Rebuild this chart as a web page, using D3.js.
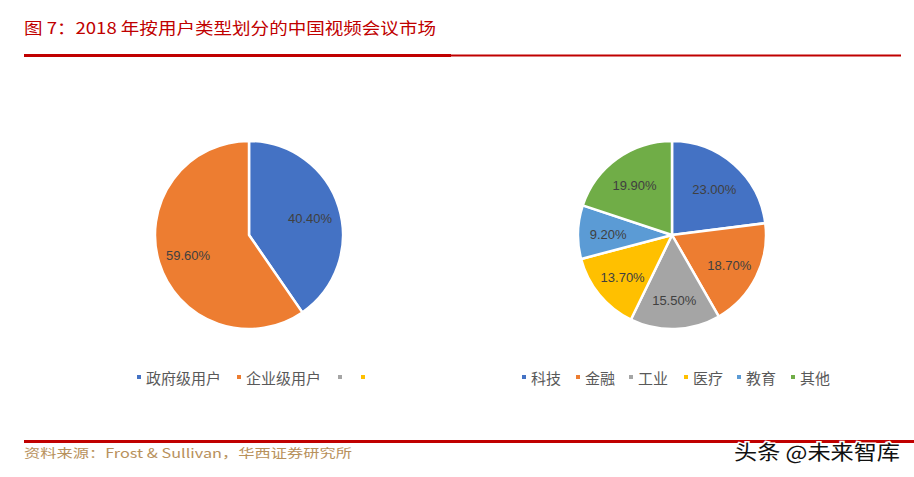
<!DOCTYPE html>
<html><head><meta charset="utf-8">
<script src="https://cdn.jsdelivr.net/npm/d3@7"></script>
<style>body{margin:0;background:#fff}svg{display:block}</style>
</head><body>
<svg id="c" width="914" height="477"></svg>
<script>
const leftCategories = ["政府级用户", "企业级用户", "", ""];
const leftValues = [40.4, 59.6, 0, 0];
const leftColors = ["#4472C4", "#ED7D31", "#A5A5A5", "#FFC000"];
const rightCategories = ["科技", "金融", "工业", "医疗", "教育", "其他"];
const rightValues = [23.0, 18.7, 15.5, 13.7, 9.2, 19.9];
const rightColors = ["#4472C4", "#ED7D31", "#A5A5A5", "#FFC000", "#5B9BD5", "#70AD47"];
const titleText = "图 7：2018 年按用户类型划分的中国视频会议市场";
const sourceText = "资料来源：Frost & Sullivan，华西证券研究所";
const watermark = "头条 @未来智库";

const svg = d3.select("#c");
const FONT = "'Noto Sans CJK SC', 'Noto Sans', sans-serif";

svg.append("text").attr("x", 24).attr("y", 34).attr("fill", "#c00000")
  .attr("font-family", FONT).attr("font-size", 16).attr("textLength", 412).attr("lengthAdjust","spacingAndGlyphs").text(titleText);
svg.append("rect").attr("x", 24).attr("y", 54).attr("width", 427).attr("height", 3).attr("fill", "#c00000");
svg.append("rect").attr("x", 451).attr("y", 54.5).attr("width", 450).attr("height", 2).attr("fill", "#c00000");

function drawPie(cx, cy, R, cats, vals, colors, legendItems) {
  const pie = d3.pie().sort(null).value(d => d)(vals);
  const arc = d3.arc().innerRadius(0).outerRadius(R);
  const lab = d3.arc().innerRadius(R * 0.68).outerRadius(R * 0.68);
  const g = svg.append("g").attr("transform", `translate(${cx},${cy})`);
  g.selectAll("path").data(pie.filter(d => d.value > 0)).join("path")
    .attr("d", arc).attr("fill", d => colors[d.index])
    .attr("stroke", "#fff").attr("stroke-width", 2.5).attr("stroke-linejoin", "round");
  g.selectAll("text").data(pie.filter(d => d.value > 0)).join("text")
    .attr("transform", d => `translate(${lab.centroid(d)})`)
    .attr("text-anchor", "middle").attr("dy", "0.5em")
    .attr("font-family", "'Liberation Sans', Arial, sans-serif").attr("font-size", 13)
    .attr("fill", "#404040")
    .text(d => d3.format(".2f")(d.value) + "%");
  const lg = svg.append("g");
  legendItems.forEach((it, i) => {
    lg.append("rect").attr("x", it.x).attr("y", 375).attr("width", 4).attr("height", 4).attr("fill", colors[i]);
    lg.append("text").attr("x", it.x + 9).attr("y", 384).attr("font-family", FONT)
      .attr("font-size", 15).attr("fill", "#595959").text(cats[i]);
  });
}

drawPie(249, 235, 94, leftCategories, leftValues, leftColors,
  [{x:137},{x:237},{x:338},{x:361}]);
drawPie(672, 235, 94, rightCategories, rightValues, rightColors,
  [{x:522},{x:576},{x:629},{x:684},{x:737},{x:791}]);

svg.append("rect").attr("x", 24).attr("y", 440).attr("width", 890).attr("height", 3).attr("fill", "#c00000");
svg.append("text").attr("x", 24).attr("y", 458).attr("fill", "#b8915c")
  .attr("font-family", "'Noto Sans CJK SC', 'DejaVu Sans Mono', monospace").attr("font-size", 12.5)
  .attr("textLength", 328).attr("lengthAdjust","spacingAndGlyphs").text(sourceText);
svg.append("text").attr("x", 734).attr("y", 460).attr("fill", "#fff")
  .attr("font-family", FONT).attr("font-size", 20).attr("stroke","#fff").attr("stroke-width",3)
  .attr("textLength", 166).attr("lengthAdjust","spacingAndGlyphs").text(watermark);
svg.append("text").attr("x", 734).attr("y", 460).attr("fill", "#111")
  .attr("font-family", FONT).attr("font-size", 20)
  .attr("textLength", 166).attr("lengthAdjust","spacingAndGlyphs").text(watermark);
</script>
</body></html>
